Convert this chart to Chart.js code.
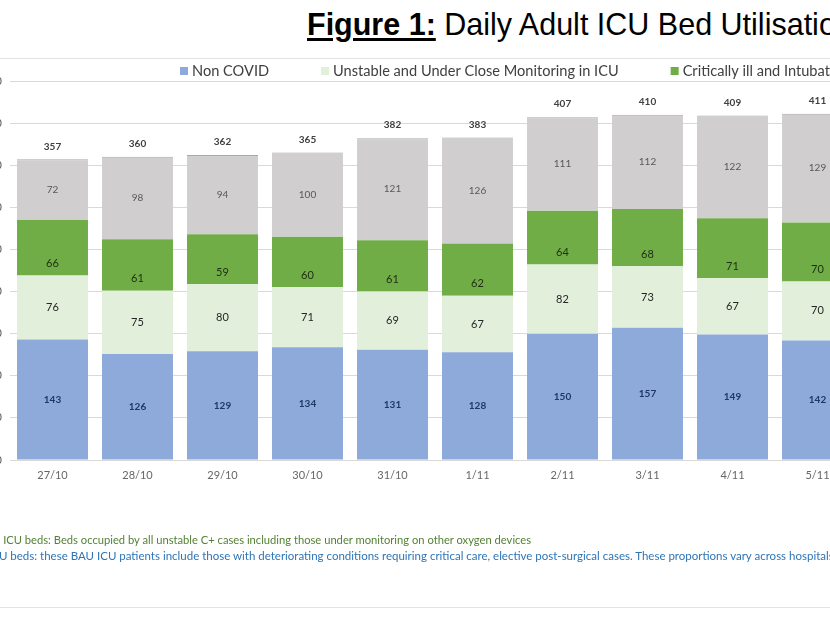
<!DOCTYPE html>
<html>
<head>
<meta charset="utf-8">
<script src="https://cdn.jsdelivr.net/npm/chart.js@4.4.0/dist/chart.umd.min.js"></script>
<style>
  body { margin: 0; width: 830px; height: 622px; overflow: hidden; background: #fff; position: relative; font-family: Lato, sans-serif; }
  #title { position: absolute; left: 307px; top: 9px; font: 30.5px/30px "Liberation Sans", Arial, sans-serif; color: #000; white-space: nowrap; }
  #title b { text-decoration: underline; text-decoration-thickness: 3px; text-underline-offset: 3px; }
  .frame { position: absolute; left: 0; width: 830px; height: 0; border-top: 1px solid #e3e3e3; }
  .note { position: absolute; white-space: nowrap; font-family: Lato, sans-serif; line-height: 13px; }
  canvas { position: absolute; left: -30px; top: 0; }
</style>
</head>
<body>
<div id="title"><b>Figure 1:</b> Daily Adult ICU Bed Utilisation</div>
<div class="frame" style="top:58px"></div>
<div class="frame" style="top:607px"></div>
<canvas id="icu-chart" width="930" height="622"></canvas>
<div class="note" id="note1" style="top:533px;font-size:11.2px;color:#548235"><span class="pre">COVID </span>ICU beds: Beds occupied by all unstable C+ cases including those under monitoring on other oxygen devices</div>
<div class="note" id="note2" style="top:549px;font-size:11.5px;color:#2e75b6"><span class="pre">Non-COVID IC</span>U beds: these BAU ICU patients include those with deteriorating conditions requiring critical care, elective post-surgical cases. These proportions vary across hospitals.</div>
<script>
// data
var days = ['27/10', '28/10', '29/10', '30/10', '31/10', '1/11', '2/11', '3/11', '4/11', '5/11'];
var nonCovid = [143, 126, 129, 134, 131, 128, 150, 157, 149, 142];
var unstable = [76, 75, 80, 71, 69, 67, 82, 73, 67, 70];
var intubated = [66, 61, 59, 60, 61, 62, 64, 68, 71, 70];
var vacant = [72, 98, 94, 100, 121, 126, 111, 112, 122, 129];
var totals = [357, 360, 362, 365, 382, 383, 407, 410, 409, 411];
var yTicks = [0, 50, 100, 150, 200, 250, 300, 350, 400, 450];

// label look per dataset (same order as datasets)
var labelStyles = [
  { font: 'bold 10px Lato', color: '#203864', nearBase: false },
  { font: '11px Lato', color: '#262626', nearBase: false },
  { font: '11px Lato', color: '#1e2e12', nearBase: true },
  { font: '10px Lato', color: '#595959', nearBase: false }
];

var barLabels = {
  id: 'barLabels',
  afterDatasetsDraw(chart) {
    var ctx = chart.ctx;
    ctx.save();
    ctx.textAlign = 'center';
    ctx.textBaseline = 'middle';
    chart.data.datasets.forEach((ds, d) => {
      var st = labelStyles[d];
      ctx.font = st.font;
      ctx.fillStyle = st.color;
      chart.getDatasetMeta(d).data.forEach((bar, i) => {
        var y = st.nearBase ? bar.base - 12 : (bar.y + bar.base) / 2;
        ctx.fillText(ds.data[i], bar.x, y);
      });
    });
    // totals on top of the stack
    ctx.font = 'bold 10px Lato';
    ctx.fillStyle = '#404040';
    chart.getDatasetMeta(chart.data.datasets.length - 1).data.forEach((bar, i) => {
      ctx.fillText(totals[i], bar.x, bar.y - 13);
    });
    ctx.restore();
  }
};

// legend row sits between the frame and the plot, starting left of centre
var topLegend = {
  id: 'topLegend',
  afterDraw(chart) {
    var ctx = chart.ctx;
    var x = 210, y = 71;
    ctx.save();
    ctx.font = '14.6px Lato';
    ctx.textBaseline = 'middle';
    ctx.textAlign = 'left';
    chart.data.datasets.forEach(ds => {
      ctx.fillStyle = ds.backgroundColor;
      ctx.fillRect(x, y - 4, 8, 8);
      ctx.fillStyle = '#404040';
      ctx.fillText(ds.label, x + 12, y);
      x += 12 + ctx.measureText(ds.label).width + 52;
    });
    ctx.restore();
  }
};

var ctx = document.getElementById('icu-chart').getContext('2d');
var icuChart = new Chart(ctx, {
  type: 'bar',
  data: {
    labels: days,
    datasets: [
      { label: 'Non COVID', data: nonCovid, backgroundColor: '#8eaadb' },
      { label: 'Unstable and Under Close Monitoring in ICU', data: unstable, backgroundColor: '#e2efda' },
      { label: 'Critically ill and Intubated in ICU', data: intubated, backgroundColor: '#70ad47' },
      { label: 'Vacant ICU beds', data: vacant, backgroundColor: '#d0cece',
        borderColor: '#a9a9a9', borderWidth: { top: 1, left: 0, right: 0, bottom: 0 }, borderSkipped: false }
    ]
  },
  options: {
    responsive: false,
    animation: false,
    layout: { padding: { top: 81, right: 40, bottom: 132, left: 0 } },
    datasets: { bar: { categoryPercentage: 1, barPercentage: 0.835 } },
    scales: {
      x: {
        stacked: true,
        grid: { display: false },
        border: { display: false },
        ticks: { color: '#666666', font: { family: 'Lato', size: 11 }, padding: 1 },
        afterFit(scale) { scale.height = 30; }
      },
      y: {
        stacked: true,
        min: 0,
        max: 450,
        afterBuildTicks(scale) { scale.ticks = yTicks.map(v => ({ value: v })); },
        grid: { color: '#d9d9d9', drawTicks: false },
        border: { display: false },
        ticks: { color: '#595959', font: { family: 'Lato', size: 11 }, padding: 8 },
        afterFit(scale) { scale.width = 40; }
      }
    },
    plugins: {
      legend: { display: false },
      tooltip: { enabled: false }
    }
  },
  plugins: [barLabels, topLegend]
});

// the notes are cut at the left edge, like the source screenshot
function placeNote(id, x) {
  var el = document.getElementById(id);
  el.style.left = (x - el.querySelector('.pre').offsetWidth) + 'px';
}
placeNote('note1', 3);
placeNote('note2', -1);
</script>
</body>
</html>
